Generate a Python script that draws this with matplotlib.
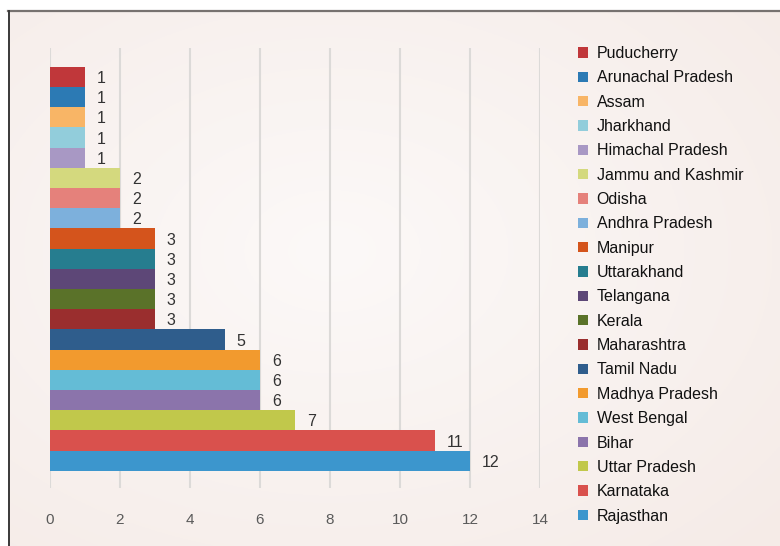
import numpy as np
import matplotlib
matplotlib.use('Agg')
import matplotlib.pyplot as plt
from matplotlib.lines import Line2D

plt.rcParams['font.family'] = ['Liberation Sans', 'DejaVu Sans']

# data, top bar first
states = ["Puducherry", "Arunachal Pradesh", "Assam", "Jharkhand", "Himachal Pradesh",
          "Jammu and Kashmir", "Odisha", "Andhra Pradesh", "Manipur", "Uttarakhand",
          "Telangana", "Kerala", "Maharashtra", "Tamil Nadu", "Madhya Pradesh",
          "West Bengal", "Bihar", "Uttar Pradesh", "Karnataka", "Rajasthan"]
counts = [1, 1, 1, 1, 1, 2, 2, 2, 3, 3, 3, 3, 3, 5, 6, 6, 6, 7, 11, 12]
colors = ["#c0373a", "#2c7ab4", "#f8b566", "#92cddb", "#a898c4",
          "#d4d97e", "#e5817b", "#7db0dc", "#d4541c", "#267d8f",
          "#5d4777", "#5a7229", "#9a2e2e", "#2f5d8c", "#f29a2e",
          "#64bcd6", "#8b74ab", "#c1c84b", "#d9514d", "#3c96cd"]
xticks = [0, 2, 4, 6, 8, 10, 12, 14]

W, H = 780, 546
fig = plt.figure(figsize=(W / 100, H / 100), dpi=100)
fig.patch.set_facecolor('white')

# soft radial background inside the frame
bg = fig.add_axes([8 / W, 0, 1 - 8 / W, 1 - 10 / H])
gx, gy = np.meshgrid(np.linspace(0, 1, 400), np.linspace(0, 1, 300))
r = np.sqrt(((gx - 0.42) / 0.8) ** 2 + ((gy - 0.45) / 0.8) ** 2)
r = np.clip(r, 0, 1)[..., None]
c_in = np.array([252, 249, 248]) / 255
c_out = np.array([245, 235, 231]) / 255
bg.imshow(c_in * (1 - r) + c_out * r, aspect='auto', extent=[0, 1, 0, 1])
bg.axis('off')

# frame lines (top and left)
fig.add_artist(Line2D([8 / W, 1], [1 - 10.5 / H] * 2, color='#777270', lw=1.6))
fig.add_artist(Line2D([8.5 / W] * 2, [0, 1 - 10.5 / H], color='#3a3a3a', lw=1.4))

ax = fig.add_axes([50 / W, 58 / H, 490 / W, 440 / H])
ax.set_facecolor('none')
y = np.arange(len(states))
bars = ax.barh(y, counts, height=1.02, color=colors, label=states, zorder=3)
for yi, v in zip(y, counts):
    ax.annotate(str(v), (v, yi), xytext=(8.5, -1), textcoords='offset points',
                ha='left', va='center', fontsize=11.5, color='#333333', zorder=4)

ax.set_xlim(0, 14)
ax.set_ylim(len(states) - 0.5 + 0.84, -0.5 - 0.94)
ax.set_xticks(xticks)
ax.set_yticks([])
ax.grid(axis='x', color='#dcdad8', lw=1.5, zorder=0)
for s in ax.spines.values():
    s.set_visible(False)
ax.tick_params(axis='x', length=0, pad=18, labelsize=11, labelcolor='#5a5a5a')

handles = [b for b in bars]
fig.legend(handles, states, loc='upper left', bbox_to_anchor=(578 / W, 1 - 46 / H),
           frameon=False, fontsize=11.5, handlelength=0.62, handleheight=0.62,
           handletextpad=0.55, labelspacing=0.585, borderaxespad=0, borderpad=0,
           labelcolor='#111111')

fig.savefig('out.png', dpi=100)
